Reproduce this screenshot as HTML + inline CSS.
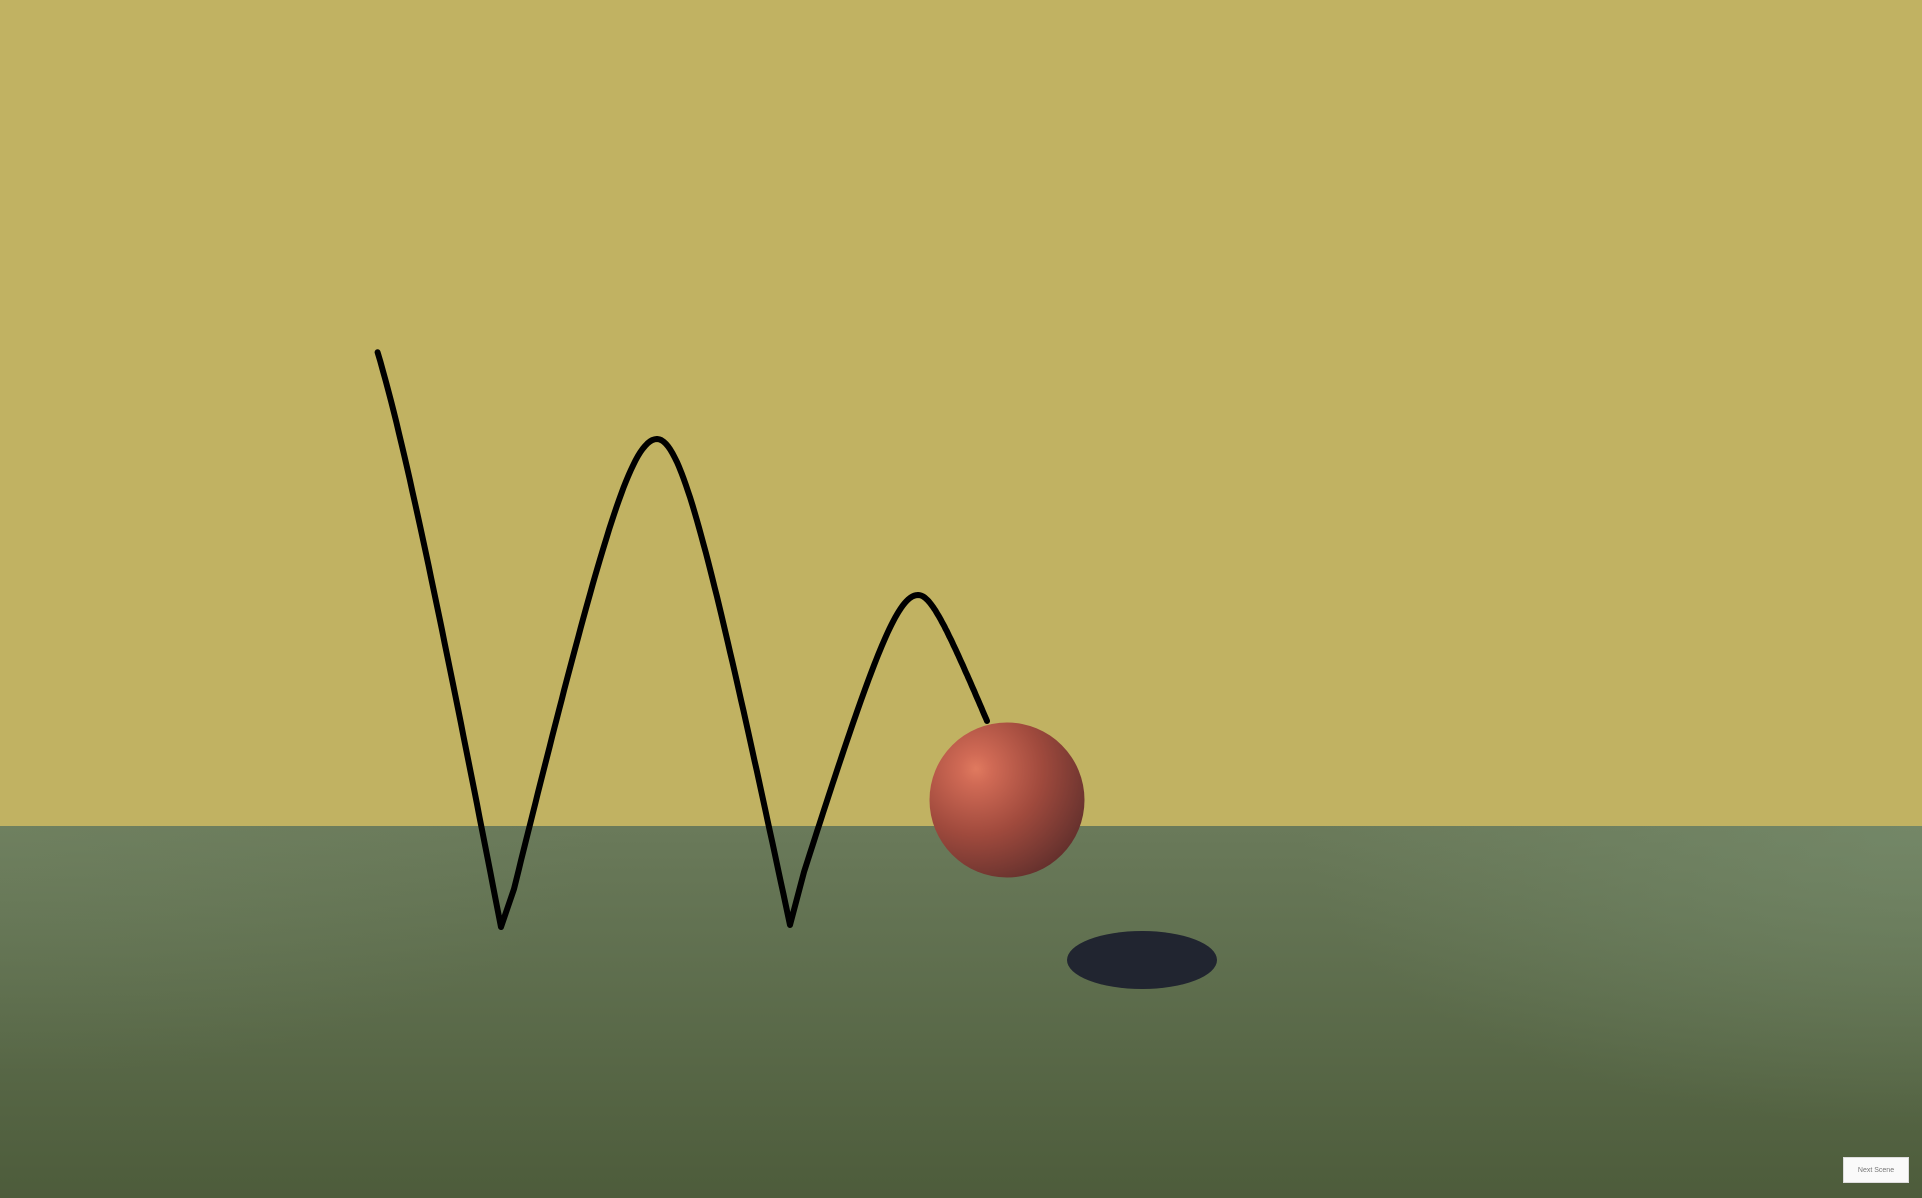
<!DOCTYPE html>
<html><head><meta charset="utf-8"><style>
html,body{margin:0;padding:0;width:1922px;height:1198px;overflow:hidden;background:#c1b262;font-family:"Liberation Sans",sans-serif}
#scene{position:absolute;left:0;top:0}
#btn{position:absolute;left:1843px;top:1157px;width:66px;height:26px;background:#fafafa;border:1px solid #ddd;box-sizing:border-box;font-size:7px;color:#777;display:flex;align-items:center;justify-content:center}
</style></head><body>
<svg id="scene" width="1922" height="1198" viewBox="0 0 1922 1198">
<defs>
<linearGradient id="floorg" x1="0" y1="0" x2="0" y2="1">
<stop offset="0" stop-color="#6a7a5a"/><stop offset="1" stop-color="#4d5c3b"/>
</linearGradient>
<radialGradient id="sideL" cx="0" cy="0" r="1" gradientUnits="objectBoundingBox"><stop offset="0" stop-color="#7a8e6c" stop-opacity=".3"/><stop offset="1" stop-color="#7a8e6c" stop-opacity="0"/></radialGradient>
<radialGradient id="sideR" cx="1" cy="0" r="1" gradientUnits="objectBoundingBox"><stop offset="0" stop-color="#7a9070" stop-opacity=".6"/><stop offset="1" stop-color="#7a9070" stop-opacity="0"/></radialGradient>
<radialGradient id="ballg" cx="0.3" cy="0.3" r="0.85">
<stop offset="0" stop-color="#e07a5f"/><stop offset="0.12" stop-color="#d06a55"/><stop offset="0.5" stop-color="#a04a3d"/><stop offset="0.85" stop-color="#6e3530"/><stop offset="1" stop-color="#5a2a28"/>
</radialGradient>
</defs>
<rect x="0" y="0" width="1922" height="826" fill="#c1b262"/>
<rect x="0" y="826" width="1922" height="372" fill="url(#floorg)"/>
<rect x="0" y="826" width="600" height="250" fill="url(#sideL)"/>
<rect x="1300" y="826" width="622" height="300" fill="url(#sideR)"/>
<path id="trail" fill="none" stroke="#000" stroke-width="6" stroke-linecap="round" stroke-linejoin="round"/>
<ellipse cx="1142" cy="960" rx="75" ry="29" fill="#212530"/>
<circle cx="1007" cy="800" r="77.5" fill="url(#ballg)"/>
</svg>
<div id="btn">Next Scene</div>
<script>
// bounce arcs: start point (may be past apex), apex, end point
const arcStartX=[375,514,804];
const arcStartY=[344,889,872];
const arcApexX=[340,657,918];
const arcApexY=[283,439,595];
const arcEndX=[501,790,987];
const arcEndY=[927,925,721];
const roundness=0.3;
function f(t){const e=roundness;return (Math.sqrt(t*t+e*e)-e)/(Math.sqrt(1+e*e)-e);}
let d='';
for(let i=0;i<arcStartX.length;i++){
  const ax=arcApexX[i], ay=arcApexY[i];
  const pts=[];
  const sx=arcStartX[i], sy=arcStartY[i];
  const n=60;
  if(sx<ax){
    for(let k=0;k<=n;k++){const t=1-k/n;pts.push([ax+(sx-ax)*t, ay+(sy-ay)*f(t)]);}
  }
  const ex=arcEndX[i], ey=arcEndY[i];
  for(let k=0;k<=n;k++){
    const t=k/n;
    const x=ax+(ex-ax)*t;
    if(x<sx) continue;
    pts.push([x, ay+(ey-ay)*f(t)]);
  }
  d+=(i===0?'M':'L')+pts.map(p=>p[0].toFixed(1)+' '+p[1].toFixed(1)).join(' L');
}
document.getElementById('trail').setAttribute('d',d);
</script>
</body></html>
